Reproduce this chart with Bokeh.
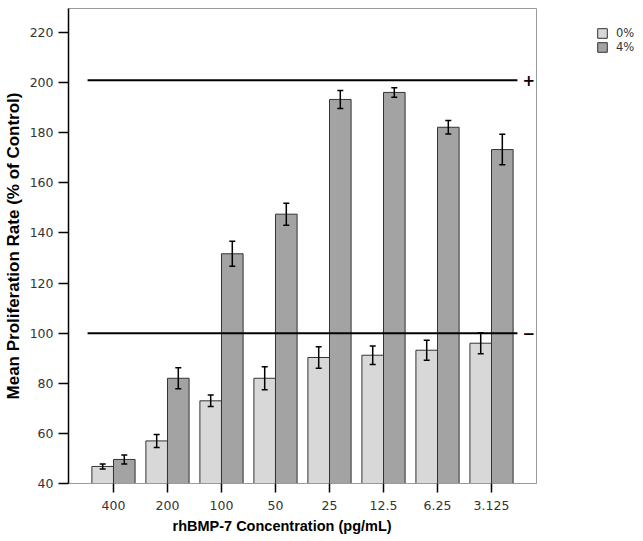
import numpy as np
from bokeh.plotting import figure
from bokeh.models import (Range1d, FixedTicker, Whisker, ColumnDataSource, Legend,
                          LegendItem, TeeHead, Title)
from bokeh.core.properties import value
from bokeh.embed import file_html
from bokeh.resources import INLINE

# ---- data ----
categories = ["400", "200", "100", "50", "25", "12.5", "6.25", "3.125"]
mean_0pct = [46.8, 57.0, 73.0, 82.0, 90.3, 91.2, 93.2, 96.0]
err_0pct = [1.0, 2.6, 2.3, 4.6, 4.3, 3.7, 4.0, 4.2]
mean_4pct = [49.6, 82.0, 131.7, 147.5, 193.3, 196.1, 182.2, 173.3]
err_4pct = [1.8, 4.2, 5.0, 4.4, 3.6, 1.9, 2.7, 6.1]
series_labels = ["0%", "4%"]
ref_levels = [201.0, 100.0]
ref_marks = ["+", "\u2212"]
y_ticks = [40, 60, 80, 100, 120, 140, 160, 180, 200, 220]
x_title = "rhBMP-7 Concentration (pg/mL)"
y_title = "Mean Proliferation Rate (% of Control)"

idx = np.arange(len(categories), dtype=float)
off = 0.2
bw = 0.4

p = figure(output_backend="svg", toolbar_location=None,
           frame_width=468, frame_height=475,
           min_border_left=68, min_border_right=107, min_border_top=8, min_border_bottom=50,
           x_range=Range1d(-0.833, len(categories) - 1 + 0.833),
           y_range=Range1d(40, 229.6))
p.background_fill_color = "white"
p.border_fill_color = "white"
p.outline_line_color = "#9a9a9a"
p.outline_line_width = 1
p.grid.visible = False

light = "#d8d8d8"
dark = "#a3a3a3"
edge = "#333333"

src0 = ColumnDataSource(dict(x=idx - off, top=mean_0pct,
                             lo=np.array(mean_0pct) - np.array(err_0pct),
                             hi=np.array(mean_0pct) + np.array(err_0pct)))
src4 = ColumnDataSource(dict(x=idx + off, top=mean_4pct,
                             lo=np.array(mean_4pct) - np.array(err_4pct),
                             hi=np.array(mean_4pct) + np.array(err_4pct)))

r0 = p.vbar(x="x", top="top", bottom=40, width=bw, source=src0,
            fill_color=light, line_color=edge, line_width=1)
r4 = p.vbar(x="x", top="top", bottom=40, width=bw, source=src4,
            fill_color=dark, line_color=edge, line_width=1)

# reference lines with marks
n = len(categories)
for lvl, mark in zip(ref_levels, ref_marks):
    p.line(x=[-0.48, n - 1 + 0.48], y=[lvl, lvl], line_color="black", line_width=2)
    p.text(x=[n - 1 + 0.69], y=[lvl], text=[mark], text_align="center",
           text_baseline="middle", text_font=value("DejaVu Sans"),
           text_font_style="bold", text_font_size="15px", text_color="black")

for src in (src0, src4):
    w = Whisker(base="x", lower="lo", upper="hi", source=src, level="overlay",
                line_color="black", line_width=1.5,
                upper_head=TeeHead(size=6, line_color="black", line_width=1.5),
                lower_head=TeeHead(size=6, line_color="black", line_width=1.5))
    p.add_layout(w)

# axes
p.xaxis.ticker = FixedTicker(ticks=list(idx))
p.xaxis.major_label_overrides = {float(i): c for i, c in zip(idx, categories)}
p.xaxis.minor_tick_line_color = None
p.xaxis.major_tick_out = 9
p.xaxis.major_tick_in = 0
p.xaxis.major_tick_line_color = "black"
p.xaxis.major_tick_line_width = 1.5
p.xaxis.axis_line_color = "#9a9a9a"
p.xaxis.major_label_standoff = 8

p.yaxis.ticker = FixedTicker(ticks=y_ticks)
p.yaxis.minor_tick_line_color = None
p.yaxis.major_tick_out = 10
p.yaxis.major_tick_in = 0
p.yaxis.major_tick_line_color = "black"
p.yaxis.major_tick_line_width = 1.5
p.yaxis.axis_line_color = "black"
p.yaxis.axis_line_width = 1.5
p.yaxis.axis_label = y_title
p.yaxis.major_label_standoff = 5
p.yaxis.axis_label_standoff = 4

for ax in (p.xaxis[0], p.yaxis[0]):
    ax.major_label_text_font = "DejaVu Sans"
    ax.major_label_text_font_size = "12.5px"
    ax.major_label_text_color = "#333333"
p.yaxis.axis_label_text_font = "Liberation Sans"
p.yaxis.axis_label_text_font_style = "bold"
p.yaxis.axis_label_text_color = "black"
p.yaxis.axis_label_text_font_size = "17px"

# x-axis title (offset to the left, as in the original)
xt = Title(text=x_title, align="left", offset=104, standoff=6,
           text_font="Liberation Sans", text_font_style="bold",
           text_font_size="14.5px", text_color="black")
p.add_layout(xt, "below")

legend = Legend(items=[LegendItem(label=series_labels[0], renderers=[r0]),
                       LegendItem(label=series_labels[1], renderers=[r4])],
                location=(60, 429))
legend.glyph_width = 12
legend.glyph_height = 12
legend.label_height = 10
legend.spacing = 0
legend.padding = 0
legend.margin = 0
legend.label_standoff = 8
legend.border_line_color = None
legend.background_fill_alpha = 0
legend.label_text_font = "DejaVu Sans"
legend.label_text_font_size = "11.5px"
legend.label_text_color = "#333333"
p.add_layout(legend, "right")

open("out.html", "w").write(file_html(p, INLINE))
